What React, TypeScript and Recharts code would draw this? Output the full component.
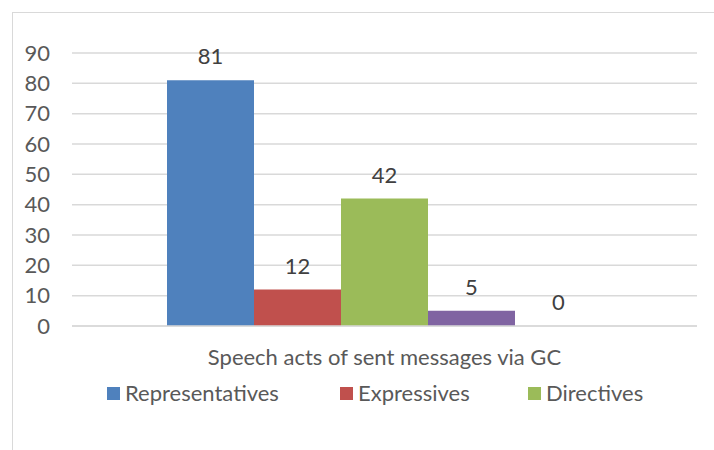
import React from "react";
import { BarChart, Bar, XAxis, YAxis, CartesianGrid, Legend, LabelList } from "recharts";

const categories = ["Speech acts of sent messages via GC"];
const seriesNames = ["Representatives", "Expressives", "Directives", "Commissives", "Declaratives"];
const representatives = [81];
const expressives = [12];
const directives = [42];
const commissives = [5];
const declaratives = [0];
const yTicks = [0, 10, 20, 30, 40, 50, 60, 70, 80, 90];
const colors = ["#4f81bd", "#c0504d", "#9bbb59", "#8064a2", "#4bacc6"];
const legendShown = 3;

const seriesValues = [representatives, expressives, directives, commissives, declaratives];
const data = categories.map((c, i) => {
  const row: Record<string, string | number> = { name: c };
  seriesNames.forEach((s, j) => {
    row[s] = seriesValues[j][i];
  });
  return row;
});

const FONT = "Lato, 'Noto Sans', sans-serif";
const TEXT = "#595959";
const FS = 22;

const LegendContent = () => (
  <div style={{ position: "relative", height: 24, fontFamily: FONT, fontSize: FS, color: TEXT }}>
    {seriesNames.slice(0, legendShown).map((s, i) => (
      <div
        key={s}
        style={{
          position: "absolute",
          left: [107, 340, 528][i],
          top: 0,
          display: "flex",
          alignItems: "center",
          whiteSpace: "nowrap",
          lineHeight: "24px",
        }}
      >
        <span style={{ display: "inline-block", width: 13, height: 13, background: colors[i], marginRight: 5 }} />
        <span>{s}</span>
      </div>
    ))}
  </div>
);

const makeLabel = (value: number) => (props: any) => {
  const { x, y, width } = props;
  return (
    <text
      x={x + width / 2}
      y={y - 17}
      textAnchor="middle"
      fill="#404040"
      fontSize={FS}
      fontFamily={FONT}
    >
      {value}
    </text>
  );
};

export default function App() {
  return (
    <div style={{ position: "absolute", left: 0, top: 0, width: 714, height: 450, overflow: "hidden", background: "#fff" }}>
      <div
        style={{
          position: "absolute",
          left: 12,
          top: 12,
          width: 760,
          height: 500,
          border: "1.5px solid #d9d9d9",
          boxSizing: "border-box",
        }}
      />
      <BarChart
        width={714}
        height={450}
        data={data}
        margin={{ top: 53, right: 17, bottom: 50, left: 0 }}
        barCategoryGap={95}
        barGap={0}
        style={{ position: "absolute", left: 0, top: 0 }}
      >
        <CartesianGrid vertical={false} stroke="#d9d9d9" strokeWidth={1.5} />
        {seriesNames.map((s, i) => (
          <Bar
            key={s}
            dataKey={s}
            fill={colors[i]}
            isAnimationActive={false}
            minPointSize={(v: number) => (v === 0 ? 0.01 : 0)}
          >
            <LabelList dataKey={s} position="top" offset={16} fill={"#404040"} fontSize={FS} fontFamily={FONT} />
          </Bar>
        ))}
        <XAxis
          dataKey="name"
          axisLine={{ stroke: "#d9d9d9", strokeWidth: 1.5 }}
          tickLine={false}
          tickSize={0}
          tickMargin={23}
          height={50}
          tick={{ fill: TEXT, fontSize: FS, fontFamily: FONT }}
        />
        <YAxis
          domain={[0, 90]}
          ticks={yTicks}
          interval={0}
          axisLine={false}
          tickLine={false}
          tickSize={0}
          tickMargin={22}
          width={72}
          tick={{ fill: TEXT, fontSize: FS, fontFamily: FONT }}
        />
        <Legend
          content={<LegendContent />}
          wrapperStyle={{ position: "absolute", top: 381, left: 0, width: 714, height: 24 }}
        />
      </BarChart>
    </div>
  );
}
